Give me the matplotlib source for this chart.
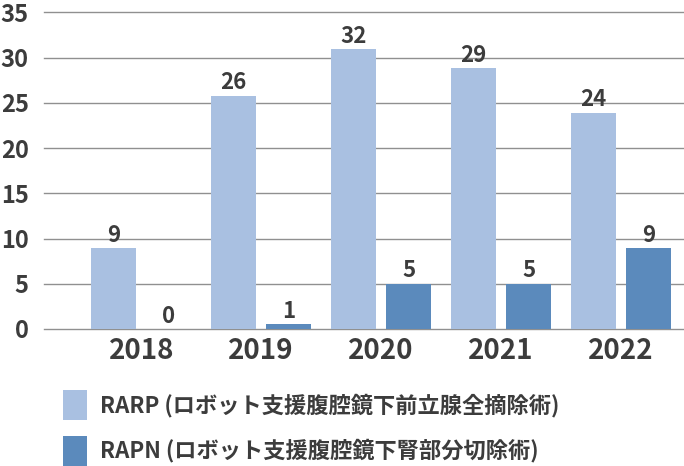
import matplotlib
matplotlib.use("Agg")
import matplotlib.pyplot as plt
import numpy as np

# Data.
years = ["2018", "2019", "2020", "2021", "2022"]
rarp_heights = [8.9, 25.8, 30.9, 28.8, 23.9]
rapn_heights = [0, 0.55, 5, 5, 8.9]
rarp_labels = ["9", "26", "32", "29", "24"]
rapn_labels = ["0", "1", "5", "5", "9"]
series_names = [
    "RARP (ロボット支援腹腔鏡下前立腺全摘除術)",
    "RAPN (ロボット支援腹腔鏡下腎部分切除術)",
]
y_ticks = [0, 5, 10, 15, 20, 25, 30, 35]

rarp_color = "#a9c0e1"
rapn_color = "#5b8abc"
text_color = "#3c3c3c"
grid_color = "#909090"

plt.rcParams["font.family"] = ["Noto Sans CJK JP", "DejaVu Sans"]

fig = plt.figure(figsize=(6.84, 4.66), dpi=100)
ax = fig.add_axes([44 / 684, 137 / 466, 640 / 684, 316.7 / 466])

x = np.arange(len(years))
width = 0.375
offset = 0.229

bars_rarp = ax.bar(x - offset, rarp_heights, width, color=rarp_color, zorder=2)
bars_rapn = ax.bar(x + offset, rapn_heights, width, color=rapn_color, zorder=2)

for bars, labels in [(bars_rarp, rarp_labels), (bars_rapn, rapn_labels)]:
    ax.bar_label(bars, labels=labels, padding=1, fontsize=16,
                 fontweight="bold", color=text_color)

ax.set_xlim(-0.81, 4.525)
ax.set_ylim(0, 35)
ax.set_yticks(y_ticks)
ax.set_xticks(x)
ax.set_xticklabels(years)

ax.grid(axis="y", color=grid_color, linewidth=1)
ax.set_axisbelow(True)
for line in ax.get_ygridlines():
    line.set_clip_on(False)

for spine in ax.spines.values():
    spine.set_visible(False)

ax.tick_params(axis="y", length=0, pad=11, labelsize=17, labelcolor=text_color)
ax.tick_params(axis="x", length=0, pad=6, labelsize=20, labelcolor=text_color)
for lbl in ax.get_xticklabels() + ax.get_yticklabels():
    lbl.set_fontweight("bold")

fs = 16
fs_px = fs * 100 / 72
leg = fig.legend(
    [bars_rarp, bars_rapn], series_names,
    loc="upper left", bbox_to_anchor=(62.7 / 684, 1 - 390 / 466),
    frameon=False, fontsize=fs, borderpad=0, borderaxespad=0,
    handlelength=24 / fs_px, handleheight=1.7,
    handletextpad=0.6, labelspacing=0.7,
)
for t in leg.get_texts():
    t.set_color(text_color)
    t.set_fontweight("bold")

fig.savefig("out.png", dpi=100)
